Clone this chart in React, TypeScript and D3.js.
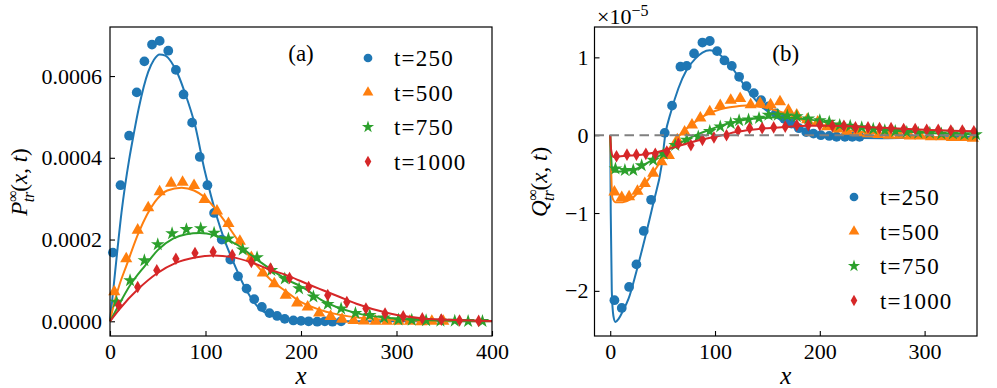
import React, { Component } from "react";
import * as d3 from "d3";

const FONT = "'Liberation Serif', 'Times New Roman', serif";
const COLORS = ["#1f77b4", "#ff7f0e", "#2ca02c", "#d62728"];
const LABELS = ["t=250", "t=500", "t=750", "t=1000"];

// panel (a): P_tr(x,t), values in units of 1e-4
const A_SCALE = 1e-4;
const a250X = [3, 11, 20, 28, 36, 44, 52, 61, 69, 77, 86, 94, 102, 109, 117, 126, 134, 143, 151, 159, 167, 175, 183, 192, 200, 208, 217, 225, 233, 242];
const a250Y = [1.68, 3.33, 4.54, 5.6, 6.36, 6.77, 6.86, 6.62, 6.15, 5.55, 4.86, 4.02, 3.33, 2.65, 2.0, 1.51, 1.1, 0.8, 0.54, 0.35, 0.2, 0.13, 0.06, 0.02, 0.01, 0, -0.01, 0, -0.01, 0];
const a500X = [4.5, 17, 29, 40, 52, 64, 76, 88, 99, 112, 124, 136, 148, 160, 172, 184, 196, 207, 219, 231, 243, 255, 266, 278, 290, 302, 314, 326, 337, 349];
const a500Y = [0.72, 1.53, 2.23, 2.78, 3.17, 3.38, 3.4, 3.32, 2.98, 2.7, 2.39, 1.96, 1.56, 1.18, 0.92, 0.64, 0.45, 0.35, 0.2, 0.12, 0.05, 0.02, 0.01, 0, 0, 0, 0, -0.01, 0, 0];
const a750X = [7, 21, 36, 50, 65, 80, 95, 109, 124, 139, 154, 169, 183, 198, 213, 228, 242, 257, 272, 287, 302, 316, 331, 346, 361, 375, 390];
const a750Y = [0.47, 1.0, 1.49, 1.88, 2.15, 2.25, 2.27, 2.16, 2.02, 1.75, 1.56, 1.25, 1.04, 0.8, 0.6, 0.42, 0.31, 0.2, 0.15, 0.09, 0.04, 0.03, 0.02, 0.01, 0.01, 0, 0];
const a1000X = [9, 29, 49, 69, 89, 108, 128, 148, 168, 188, 208, 228, 248, 268, 288, 307, 327, 347, 366, 386];
const a1000Y = [0.39, 0.84, 1.25, 1.53, 1.67, 1.7, 1.62, 1.45, 1.29, 1.06, 0.84, 0.64, 0.47, 0.31, 0.19, 0.12, 0.07, 0.04, 0.02, 0.01];

// fitted curves for panel (a)
const a250Fit = [[0, 0], [4, 0.9], [8, 1.8], [12, 2.65], [16, 3.35], [20, 3.95], [25, 4.6], [30, 5.2], [40, 6.1], [46, 6.4], [52, 6.53], [58, 6.5], [64, 6.35], [71, 6.05], [78, 5.62], [89, 4.8], [99, 3.7], [106, 3.05], [113, 2.47], [120, 1.98], [127, 1.57], [141, 0.84], [155, 0.35], [165, 0.18], [176, 0.1], [200, 0.02], [250, 0], [400, 0]];
const a500Fit = [[0, 0], [5, 0.5], [10, 0.9], [17, 1.35], [30, 2.17], [47, 2.92], [60, 3.2], [75, 3.27], [88, 3.2], [99, 3.04], [117, 2.55], [134, 1.98], [152, 1.41], [169, 1.0], [185, 0.72], [197, 0.51], [220, 0.28], [250, 0.12], [300, 0.03], [350, 0.01], [400, 0]];
const a750Fit = [[0, 0], [7, 0.3], [21, 0.88], [37, 1.37], [50, 1.74], [66, 2.02], [80, 2.13], [94, 2.16], [110, 2.1], [134, 1.86], [155, 1.49], [183, 1.05], [204, 0.8], [223, 0.5], [258, 0.2], [293, 0.08], [328, 0.03], [400, 0.005]];
const a1000Fit = [[0, 0], [10, 0.3], [30, 0.8], [49, 1.17], [69, 1.43], [89, 1.56], [108, 1.61], [128, 1.57], [148, 1.44], [168, 1.26], [188, 1.1], [208, 0.9], [223, 0.76], [240, 0.6], [258, 0.43], [293, 0.19], [328, 0.07], [363, 0.03], [400, 0.01]];

// panel (b): Q_tr(x,t), values in units of 1e-5
const b250X = [4, 11, 18, 25, 32, 39, 52, 59, 67, 73, 80, 88, 95, 102, 109, 116, 123, 130, 137, 144, 151, 158, 166, 173, 180, 187, 194, 201, 209, 216, 224, 231, 238];
const b250Y = [-2.12, -2.22, -1.95, -1.66, -1.23, -0.83, 0.03, 0.38, 0.88, 0.89, 1.05, 1.19, 1.21, 1.08, 0.96, 0.89, 0.75, 0.63, 0.54, 0.45, 0.37, 0.28, 0.21, 0.15, 0.09, 0.04, 0.02, 0, -0.01, -0.02, -0.02, -0.02, -0.02];
const b500X = [4, 11, 18, 26, 33, 41, 49, 56, 64, 71, 78, 86, 95, 105, 115, 124, 134, 143, 153, 162, 170, 178, 188, 198, 207, 217, 226, 236, 246, 256, 266, 276, 286, 296, 306, 316, 326, 336, 346];
const b500Y = [-0.73, -0.8, -0.79, -0.72, -0.62, -0.49, -0.34, -0.26, -0.06, 0.04, 0.13, 0.22, 0.3, 0.38, 0.45, 0.47, 0.39, 0.41, 0.39, 0.43, 0.32, 0.26, 0.2, 0.17, 0.11, 0.08, 0.05, 0.03, 0.02, 0.01, 0, 0, -0.01, -0.01, -0.02, -0.02, -0.03, -0.03, -0.04];
const b750X = [5, 14, 22, 30, 41, 51, 62, 73, 84, 95, 105, 115, 123, 132, 142, 151, 160, 169, 178, 189, 200, 209, 219, 229, 240, 251, 262, 272, 283, 294, 305, 316, 327, 338, 349];
const b750Y = [-0.43, -0.45, -0.45, -0.39, -0.32, -0.24, -0.13, -0.06, -0.02, 0.05, 0.11, 0.15, 0.19, 0.2, 0.22, 0.26, 0.26, 0.25, 0.24, 0.21, 0.19, 0.17, 0.13, 0.12, 0.1, 0.08, 0.06, 0.05, 0.04, 0.03, 0.03, 0.02, 0.02, 0.01, 0.01];
const b1000X = [6, 16, 25, 34, 43, 54, 65, 77, 88, 99, 111, 122, 133, 145, 156, 167, 178, 189, 200, 212, 223, 234, 246, 257, 268, 280, 291, 302, 313, 325, 336, 347];
const b1000Y = [-0.27, -0.25, -0.25, -0.24, -0.24, -0.21, -0.11, -0.13, -0.06, -0.03, 0, 0.06, 0.09, 0.09, 0.1, 0.11, 0.13, 0.13, 0.13, 0.12, 0.12, 0.1, 0.1, 0.09, 0.09, 0.08, 0.08, 0.07, 0.07, 0.06, 0.06, 0.05];

const b250Fit = [[0, 0], [0.5, -1.0], [1.5, -2.0], [3, -2.32], [5, -2.4], [8, -2.36], [12, -2.26], [17.5, -2.1], [25, -1.75], [33, -1.33], [41, -0.88], [49, -0.39], [52.5, 0], [58, 0.3], [65, 0.6], [73, 0.84], [81, 0.98], [88, 1.06], [95, 1.09], [104, 1.04], [113, 0.92], [121, 0.78], [129, 0.62], [137, 0.48], [145, 0.36], [153, 0.28], [161, 0.21], [175, 0.1], [190, 0.03], [200, 0], [220, -0.03], [260, -0.04], [300, -0.03], [350, -0.02]];
const b500Fit = [[0, 0], [1, -0.5], [2, -0.8], [5, -0.86], [12, -0.86], [20, -0.82], [30, -0.68], [40, -0.5], [50, -0.3], [60, -0.1], [70, 0.05], [80, 0.16], [90, 0.25], [100, 0.31], [110, 0.35], [120, 0.37], [130, 0.38], [140, 0.37], [150, 0.35], [160, 0.31], [175, 0.24], [190, 0.16], [210, 0.1], [240, 0.04], [270, 0.01], [300, -0.02], [350, -0.05]];
const b750Fit = [[0, 0], [1, -0.3], [2, -0.45], [5, -0.47], [15, -0.46], [25, -0.43], [35, -0.36], [45, -0.28], [55, -0.19], [65, -0.11], [75, -0.04], [85, 0.02], [95, 0.07], [105, 0.12], [115, 0.16], [130, 0.2], [145, 0.22], [160, 0.23], [175, 0.22], [190, 0.2], [210, 0.16], [240, 0.1], [270, 0.06], [300, 0.03], [350, 0.01]];
const b1000Fit = [[0, 0], [1, -0.2], [3, -0.28], [10, -0.27], [20, -0.26], [30, -0.25], [40, -0.23], [50, -0.2], [60, -0.16], [70, -0.12], [80, -0.08], [90, -0.05], [100, -0.02], [110, 0.01], [120, 0.04], [135, 0.07], [150, 0.09], [170, 0.11], [190, 0.12], [210, 0.12], [240, 0.11], [270, 0.09], [300, 0.07], [350, 0.05]];

const xTicksA = [0, 100, 200, 300, 400];
const yTicksA = [0, 0.0002, 0.0004, 0.0006];
const xTicksB = [0, 100, 200, 300];
const yTicksB = [-2, -1, 0, 1];

const SYMBOLS = [
  d3.symbol().type(d3.symbolCircle).size(75),
  d3.symbol().type(d3.symbolTriangle).size(64),
  d3.symbol().type(d3.symbolStar).size(58),
  d3.symbol().type(d3.symbolDiamond).size(46),
];
const LEGEND_SYMBOLS = [
  d3.symbol().type(d3.symbolCircle).size(60),
  d3.symbol().type(d3.symbolTriangle).size(50),
  d3.symbol().type(d3.symbolStar).size(46),
  d3.symbol().type(d3.symbolDiamond).size(38),
];

class TransientChart extends Component {
  el: HTMLDivElement | null = null;

  createSVG() {
    const root = d3.select(this.el);
    root.selectAll("*").remove();
    return root.append("svg")
        .attr("width", 997)
        .attr("height", 388)
        .style("position", "absolute")
        .style("left", "0px")
        .style("top", "0px")
        .style("background", "#fff");
  }

  drawPanel(svg, p) {
    const x = d3.scaleLinear().domain(p.xDomain).range([p.left, p.right]);
    const y = d3.scaleLinear().domain(p.yDomain).range([p.bottom, p.top]);

    const xAxis = svg.append("g")
        .attr("transform", `translate(0,${p.bottom})`)
        .call(d3.axisBottom(x).tickValues(p.xTicks).tickSizeInner(-5).tickSizeOuter(0).tickPadding(7));
    const yAxis = svg.append("g")
        .attr("transform", `translate(${p.left},0)`)
        .call(d3.axisLeft(y).tickValues(p.yTicks).tickFormat(p.yFormat).tickSizeInner(-5).tickSizeOuter(0).tickPadding(p.yPad));
    [xAxis, yAxis].forEach((g) => {
      g.attr("font-family", FONT).attr("font-size", 22);
      g.select(".domain").remove();
      g.selectAll(".tick line").attr("stroke", "#000").attr("stroke-width", 1.1);
      g.selectAll(".tick text").attr("fill", "#000");
    });

    const line = d3.line()
        .x((d) => x(d[0]))
        .y((d) => y(d[1] * p.scale))
        .curve(d3.curveMonotoneX);

    p.series.forEach((s, i) => {
      svg.append("g")
          .selectAll("path")
          .data(d3.zip(s.xs, s.ys))
          .join("path")
          .attr("d", SYMBOLS[i])
          .attr("fill", COLORS[i])
          .attr("transform", (d) => `translate(${x(d[0])},${y(d[1] * p.scale)})`);
      svg.append("path")
          .datum(s.fit)
          .attr("d", line)
          .attr("fill", "none")
          .attr("stroke", COLORS[i])
          .attr("stroke-width", 2);
    });

    if (p.zeroLine) {
      svg.append("line")
          .attr("x1", p.left).attr("x2", p.right)
          .attr("y1", y(0)).attr("y2", y(0))
          .attr("stroke", "#808080").attr("stroke-width", 2)
          .attr("stroke-dasharray", "9.5,5.5");
    }

    svg.append("rect")
        .attr("x", p.left).attr("y", p.top)
        .attr("width", p.right - p.left).attr("height", p.bottom - p.top)
        .attr("fill", "none").attr("stroke", "#000").attr("stroke-width", 1.2);

    // legend
    LABELS.forEach((lab, i) => {
      const ly = p.legendY + i * 34.5;
      svg.append("path")
          .attr("d", LEGEND_SYMBOLS[i])
          .attr("fill", COLORS[i])
          .attr("transform", `translate(${p.legendX},${ly})`);
      svg.append("text")
          .attr("x", p.legendX + 26).attr("y", ly + 8)
          .attr("font-family", FONT).attr("font-size", 23)
          .attr("letter-spacing", 1.2)
          .text(lab);
    });

    svg.append("text")
        .attr("x", (p.left + p.right) / 2).attr("y", 61)
        .attr("text-anchor", "middle")
        .attr("font-family", FONT).attr("font-size", 23)
        .text(p.tag);

    svg.append("text")
        .attr("x", (p.left + p.right) / 2).attr("y", 384)
        .attr("text-anchor", "middle")
        .attr("font-family", FONT).attr("font-size", 25).attr("font-style", "italic")
        .text("x");

    const t = svg.append("text")
        .attr("transform", `translate(${p.labelX},182) rotate(-90)`)
        .attr("text-anchor", "middle")
        .attr("font-family", FONT).attr("font-size", 23);
    t.append("tspan").attr("font-style", "italic").text(p.letter);
    t.append("tspan").attr("font-size", 16).attr("dy", -9).text("∞");
    t.append("tspan").attr("font-size", 16).attr("font-style", "italic").attr("dx", -12).attr("dy", 16).text("tr");
    t.append("tspan").attr("dy", -7).text("(");
    t.append("tspan").attr("font-style", "italic").text("x");
    t.append("tspan").text(", ");
    t.append("tspan").attr("font-style", "italic").text("t");
    t.append("tspan").text(")");
  }

  drawChart(svg) {
    this.drawPanel(svg, {
      left: 110, right: 492, top: 27, bottom: 336,
      xDomain: [0, 400], yDomain: [-0.000036, 0.00072],
      xTicks: xTicksA, yTicks: yTicksA, yFormat: d3.format(".4f"), yPad: 8,
      scale: A_SCALE, zeroLine: false,
      legendX: 368, legendY: 58, tag: "(a)", letter: "P", labelX: 27,
      series: [
        { xs: a250X, ys: a250Y, fit: a250Fit },
        { xs: a500X, ys: a500Y, fit: a500Fit },
        { xs: a750X, ys: a750Y, fit: a750Fit },
        { xs: a1000X, ys: a1000Y, fit: a1000Fit },
      ],
    });
    this.drawPanel(svg, {
      left: 594.5, right: 977, top: 27, bottom: 336,
      xDomain: [-15, 350], yDomain: [-2.58, 1.39],
      xTicks: xTicksB, yTicks: yTicksB, yFormat: d3.format("d"), yPad: 6,
      scale: 1, zeroLine: true,
      legendX: 854, legendY: 197, tag: "(b)", letter: "Q", labelX: 547,
      series: [
        { xs: b250X, ys: b250Y, fit: b250Fit },
        { xs: b500X, ys: b500Y, fit: b500Fit },
        { xs: b750X, ys: b750Y, fit: b750Fit },
        { xs: b1000X, ys: b1000Y, fit: b1000Fit },
      ],
    });

    // offset text of panel (b)
    const off = svg.append("text")
        .attr("x", 597).attr("y", 24)
        .attr("font-family", FONT).attr("font-size", 22);
    off.append("tspan").text("×10");
    off.append("tspan").attr("font-size", 16).attr("dy", -8).text("−5");
  }

  componentDidMount() {
    const svg = this.createSVG();
    this.drawChart(svg);
  }

  render() {
    return <div ref={(el) => (this.el = el)} />;
  }
}

export default function App() {
  return <TransientChart />;
}
